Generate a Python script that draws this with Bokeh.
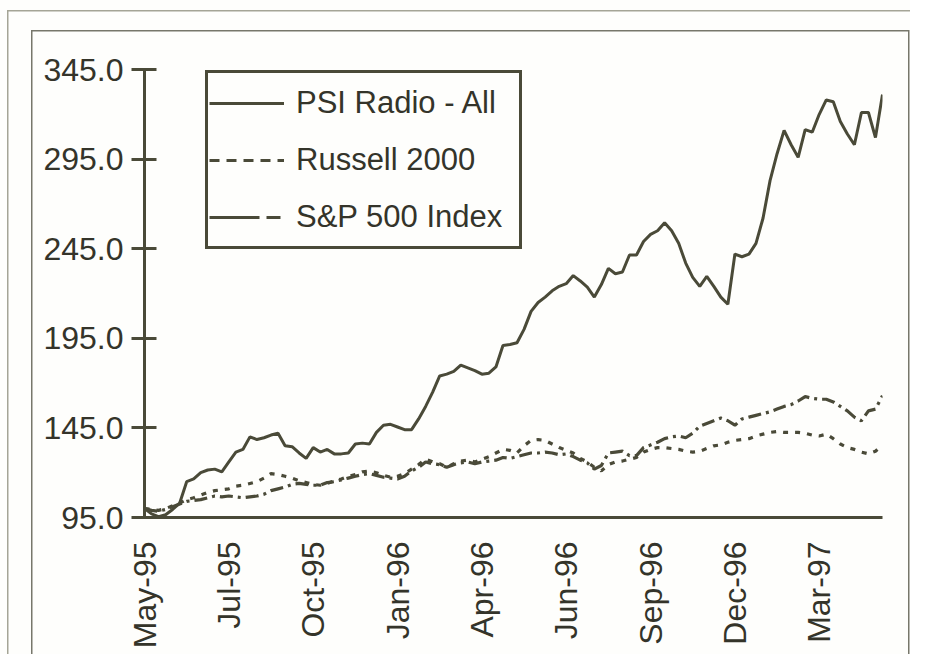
import math
from bokeh.plotting import figure
from bokeh.models import (Range1d, FixedTicker, Legend, LegendItem,
                          ColumnDataSource, PrintfTickFormatter)
from bokeh.embed import file_html
from bokeh.resources import INLINE

# ---- data (weekly index values, base = 100) ----
week = list(range(106))

psi_radio = [
    100, 97, 95.5, 96.5, 99.5, 103, 115, 116.5, 120, 121.5,
    122, 120.5, 126, 131.5, 133, 140, 138.5, 139.5, 141, 142,
    135, 134.5, 131, 128, 134, 131.5, 133, 130.5, 130.5, 131,
    136, 136.5, 136, 142.5, 146.5, 147, 145.5, 144, 144, 150,
    157, 165, 174, 175, 176.5, 180, 178.5, 177, 175, 175.5,
    179, 191, 191.5, 192.5, 200, 210, 215, 218, 221.5, 224,
    225.5, 230, 227, 223.5, 218, 225, 234, 231, 232, 241.5,
    241.5, 249, 253, 255, 259.5, 255, 248, 237, 229, 224,
    229.5, 224, 218, 214, 242, 240.5, 242, 248, 262, 283,
    298, 311, 303, 296, 311.5, 310, 320, 328, 327, 316,
    309, 303, 321, 321, 307, 331,
]

russell_2000 = [
    100, 99.5, 99, 100, 101.5, 103, 105, 106, 107.5, 109,
    110, 110.5, 111, 112.5, 113, 114, 115, 117, 119.5, 119,
    118, 117, 115.5, 114.5, 113.5, 113, 114, 115.5, 116.5, 118,
    119, 120.5, 121, 120, 118.5, 117.5, 118, 119.5, 122, 124.5,
    127.5, 126, 125, 123, 125, 126.5, 127, 126, 127.5, 129,
    131, 133, 132.5, 131, 135, 138, 138.5, 138, 136, 134,
    132.5, 131, 128, 126, 123, 121, 124.5, 126, 126.5, 127.5,
    128.5, 131.5, 133, 134, 134, 133.5, 133, 132, 131.5, 132,
    133.5, 135, 135.5, 137, 138, 138.5, 139, 140.5, 141.5, 142.5,
    143, 142.5, 142.5, 142.5, 142, 141, 140.5, 141.5, 139, 136,
    134, 133, 131.5, 130.5, 132, 135.5,
]

sp_500 = [
    100, 99, 98.5, 99.5, 101, 102.5, 104, 104.5, 105, 106,
    107, 106.5, 107, 106.5, 106, 106.5, 107, 108, 110, 111,
    112, 113.5, 114, 113.5, 113, 113, 114.5, 115, 116, 117,
    118, 119, 119.5, 118.5, 117.5, 117, 116.5, 118, 121, 123,
    126, 125, 124.5, 123, 124.5, 125.5, 126, 125, 126, 126.5,
    127, 128.5, 128, 129, 130, 131, 131, 131.5, 131, 130,
    130.5, 129, 127, 125.5, 122, 124, 131, 131.5, 132, 129.5,
    129.5, 134, 135.5, 137, 139, 140, 140.5, 139.5, 142, 146,
    147.5, 149, 150.5, 149, 146.5, 150, 151, 152, 153, 154,
    155.5, 157, 158, 160, 162.5, 161.5, 161, 161, 159.5, 157,
    154.5, 151, 149, 154.5, 155.5, 163,
]

tick_weeks = [0, 12, 24, 36, 48, 60, 72, 84, 96]
tick_labels = ["May-95", "Jul-95", "Oct-95", "Jan-96", "Apr-96",
               "Jun-96", "Sep-96", "Dec-96", "Mar-97"]
y_ticks = [95, 145, 195, 245, 295, 345]

series_names = ["PSI Radio - All", "Russell 2000", "S&P 500 Index"]

# ---- style ----
INK = "#4a4a38"
TEXT = "#34342a"
FONT = "Liberation Sans"
BG = "#fefefc"
OUTER = "#a5a596"
INNER = "#77776b"

src = ColumnDataSource(dict(week=week, psi=psi_radio, rus=russell_2000, sp=sp_500))

p = figure(width=910, height=654, output_backend="svg", toolbar_location=None,
           x_range=Range1d(0, 105), y_range=Range1d(95, 345),
           min_border_left=144, min_border_right=28,
           min_border_top=69, min_border_bottom=137)
p.grid.visible = False
p.outline_line_color = None
p.background_fill_color = BG
p.border_fill_alpha = 0

# decorative page rules (outer and inner boxes) drawn as the element background
rules = [
    f"linear-gradient({OUTER},{OUTER}) 7px 10px / 1.5px 1000px no-repeat",
    f"linear-gradient({OUTER},{OUTER}) 7px 10px / 1000px 1.5px no-repeat",
    f"linear-gradient({INNER},{INNER}) 31px 30px / 1.5px 1000px no-repeat",
    f"linear-gradient({INNER},{INNER}) 31px 30px / 878px 1.5px no-repeat",
    f"linear-gradient({INNER},{INNER}) 907.5px 30px / 1.5px 1000px no-repeat",
    BG,
]
p.styles = {"background": ", ".join(rules)}

# axes
xa = p.xaxis[0]
xa.ticker = FixedTicker(ticks=tick_weeks)
xa.major_label_overrides = {w: l for w, l in zip(tick_weeks, tick_labels)}
xa.major_label_orientation = math.pi / 2
xa.major_tick_line_color = None
xa.minor_tick_line_color = None
xa.major_tick_out = 0
xa.major_tick_in = 0
xa.axis_line_color = INK
xa.axis_line_width = 3
xa.major_label_standoff = 24
xa.major_label_text_font = FONT
xa.major_label_text_font_size = "32px"
xa.major_label_text_color = TEXT

ya = p.yaxis[0]
ya.ticker = FixedTicker(ticks=y_ticks)
ya.formatter = PrintfTickFormatter(format="%.1f")
ya.minor_tick_line_color = None
ya.major_tick_in = 12
ya.major_tick_out = 13
ya.major_tick_line_color = INK
ya.major_tick_line_width = 3
ya.axis_line_color = INK
ya.axis_line_width = 3
ya.major_label_standoff = 8
ya.major_label_text_font = FONT
ya.major_label_text_font_size = "32px"
ya.major_label_text_color = TEXT

# series
r_psi = p.line("week", "psi", source=src, line_color=INK, line_width=3)
r_rus = p.line("week", "rus", source=src, line_color=INK, line_width=3.2,
               line_dash="5 7")
r_sp = p.line("week", "sp", source=src, line_color=INK, line_width=3.2,
              line_dash="13 5 3 5")

# legend-only sample glyphs (placed outside the visible x range)
off_x = [-60, -50]
off_y = [100, 100]
leg_rus = p.line(off_x, off_y, line_color=INK, line_width=3, line_dash="10 7")
leg_sp = p.line(off_x, off_y, line_color=INK, line_width=3, line_dash="50 7 14 7")

legend = Legend(items=[LegendItem(label=series_names[0], renderers=[r_psi]),
                       LegendItem(label=series_names[1], renderers=[leg_rus]),
                       LegendItem(label=series_names[2], renderers=[leg_sp])],
                location=(61, 268))
legend.border_line_color = INK
legend.border_line_alpha = 1
legend.border_line_width = 3
legend.background_fill_color = BG
legend.background_fill_alpha = 1
legend.label_text_font = FONT
legend.label_text_font_size = "31px"
legend.label_text_color = TEXT
legend.glyph_width = 75
legend.glyph_height = 30
legend.label_standoff = 12
legend.label_height = 57
legend.label_width = 222
legend.padding = 1
legend.spacing = 0
legend.margin = 0
p.add_layout(legend, "center")

open("out.html", "w").write(file_html(p, INLINE))
